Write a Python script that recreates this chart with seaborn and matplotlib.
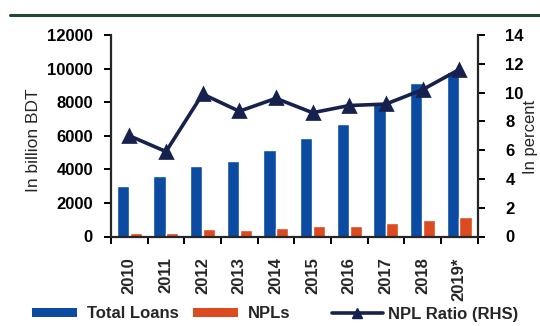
import matplotlib
matplotlib.use("Agg")
import matplotlib.pyplot as plt
from matplotlib.lines import Line2D
from matplotlib.patches import Patch
import numpy as np
import pandas as pd
import seaborn as sns

# Banking sector loans and non-performing loans, Bangladesh
years = ["2010", "2011", "2012", "2013", "2014", "2015", "2016", "2017", "2018", "2019*"]
total_loans = [3000, 3600, 4200, 4500, 5150, 5850, 6700, 7900, 9150, 9800]   # billion BDT
npls = [225, 226, 427, 400, 505, 600, 620, 790, 990, 1160]                      # billion BDT
npl_ratio = [7.0, 5.9, 9.9, 8.7, 9.6, 8.6, 9.1, 9.2, 10.2, 11.6]               # percent

left_ticks = [0, 2000, 4000, 6000, 8000, 10000, 12000]
right_ticks = [0, 2, 4, 6, 8, 10, 12, 14]

BLUE = "#0b4ca2"
ORANGE = "#dc4a1f"
NAVY = "#16214d"
GREEN = "#1f4a2c"

sns.set_theme(style="ticks")
plt.rcParams["font.family"] = ["Liberation Sans", "DejaVu Sans"]
plt.rcParams["axes.linewidth"] = 1.6

bars = pd.DataFrame({
    "year": years * 2,
    "value": total_loans + npls,
    "series": ["Total Loans"] * len(years) + ["NPLs"] * len(years),
})
ratio = pd.DataFrame({"year": years, "ratio": npl_ratio})

fig = plt.figure(figsize=(5.4, 3.26), dpi=100)
fig.patch.set_facecolor("white")
W, H = 540, 326
ax = fig.add_axes([111 / W, (H - 236.5) / H, (477.5 - 111) / W, (236.5 - 35) / H])

sns.barplot(data=bars, x="year", y="value", hue="series", order=years,
            hue_order=["Total Loans", "NPLs"], palette=[BLUE, ORANGE],
            width=0.7, gap=0.05, saturation=1, legend=False, ax=ax)

ax2 = ax.twinx()
sns.pointplot(data=ratio, x="year", y="ratio", order=years, color=NAVY,
              markers="^", linestyles="-", errorbar=None,
              markersize=8, linewidth=2.6, ax=ax2)

for a in (ax, ax2):
    a.set_xlim(-0.5, len(years) - 0.5)
    a.set_xlabel("")
    a.set_ylabel("")
    a.spines["top"].set_visible(False)
    a.set_facecolor("none")

ax.set_ylim(0, 12000)
ax.set_yticks(left_ticks)
ax.set_yticklabels([str(t) for t in left_ticks], fontsize=12, fontweight="bold")
ax.spines["right"].set_visible(False)
ax.tick_params(axis="y", length=5, width=1.4, pad=8, colors="black")

ax2.set_ylim(0, 14)
ax2.set_yticks(right_ticks)
ax2.set_yticklabels([str(t) for t in right_ticks], fontsize=12, fontweight="bold")
ax2.spines["left"].set_visible(False)
ax2.spines["bottom"].set_visible(False)
ax2.spines["right"].set_linewidth(1.6)
ax2.tick_params(axis="y", length=5, width=1.4, pad=15, colors="black")
ax2.tick_params(axis="x", length=0, labelbottom=False)

# categories: labels at centres, tick marks on boundaries
ax.set_xticks(range(len(years)))
ax.set_xticklabels(years, rotation=90, fontsize=12, fontweight="bold")
ax.tick_params(axis="x", which="major", length=0, pad=15)
ax.set_xticks(np.arange(-0.5, len(years)), minor=True)
ax.tick_params(axis="x", which="minor", length=5, width=1.4, colors="black")

fig.text(33 / W, 1 - 140 / H, "In billion BDT", rotation=90, ha="center",
         va="center", fontsize=12.5)
fig.text(530 / W, 1 - 137 / H, "In percent", rotation=90, ha="center",
         va="center", fontsize=12)

# rule across the top
fig.add_artist(Line2D([10 / W, 1.0], [1 - 15 / H, 1 - 15 / H],
                      transform=fig.transFigure, color=GREEN, lw=2.2))

# legends below the axis labels
bar_handles = [Patch(facecolor=BLUE, edgecolor="none"),
               Patch(facecolor=ORANGE, edgecolor="none")]
leg1 = fig.legend(bar_handles, ["Total Loans", "NPLs"], ncol=2, frameon=False,
                  loc="center left", bbox_to_anchor=(32 / W, 1 - 314 / H),
                  prop={"size": 12, "weight": "bold"}, handlelength=2.7,
                  handleheight=0.4, handletextpad=0.6, columnspacing=0.85,
                  borderpad=0, borderaxespad=0)
line_handle = Line2D([], [], color=NAVY, lw=2.6, marker="^", markersize=7)
leg2 = fig.legend([line_handle], ["NPL Ratio (RHS)"], frameon=False,
                  loc="center left", bbox_to_anchor=(332 / W, 1 - 314 / H),
                  prop={"size": 12, "weight": "bold"}, handlelength=3.05,
                  handletextpad=0.3, borderpad=0, borderaxespad=0)

fig.savefig("out.png", dpi=100, facecolor="white")
